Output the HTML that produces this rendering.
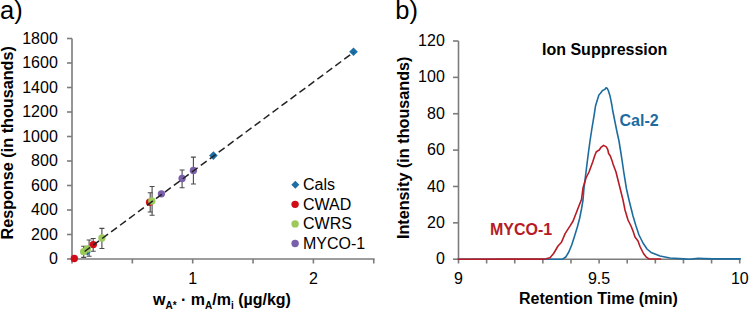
<!DOCTYPE html>
<html><head><meta charset="utf-8"><style>
html,body{margin:0;padding:0;background:#fff;width:749px;height:310px;overflow:hidden}
svg{display:block}
</style></head><body>
<svg width="749" height="310" viewBox="0 0 749 310" font-family='"Liberation Sans", sans-serif' fill="#000">
<path d="M72.0 38.5 V259.0" stroke="#7c7c7c" stroke-width="1.6" fill="none"/>
<path d="M71.0 259.0 H374.6" stroke="#7c7c7c" stroke-width="1.6" fill="none"/>
<path d="M67 259.00 H72.0" stroke="#7c7c7c" stroke-width="1.6" fill="none"/>
<text x="57.8" y="264.00" text-anchor="end" font-size="16">0</text>
<path d="M67 234.50 H72.0" stroke="#7c7c7c" stroke-width="1.6" fill="none"/>
<text x="57.8" y="239.50" text-anchor="end" font-size="16">200</text>
<path d="M67 210.00 H72.0" stroke="#7c7c7c" stroke-width="1.6" fill="none"/>
<text x="57.8" y="215.00" text-anchor="end" font-size="16">400</text>
<path d="M67 185.50 H72.0" stroke="#7c7c7c" stroke-width="1.6" fill="none"/>
<text x="57.8" y="190.50" text-anchor="end" font-size="16">600</text>
<path d="M67 161.00 H72.0" stroke="#7c7c7c" stroke-width="1.6" fill="none"/>
<text x="57.8" y="166.00" text-anchor="end" font-size="16">800</text>
<path d="M67 136.50 H72.0" stroke="#7c7c7c" stroke-width="1.6" fill="none"/>
<text x="57.8" y="141.50" text-anchor="end" font-size="16">1000</text>
<path d="M67 112.00 H72.0" stroke="#7c7c7c" stroke-width="1.6" fill="none"/>
<text x="57.8" y="117.00" text-anchor="end" font-size="16">1200</text>
<path d="M67 87.50 H72.0" stroke="#7c7c7c" stroke-width="1.6" fill="none"/>
<text x="57.8" y="92.50" text-anchor="end" font-size="16">1400</text>
<path d="M67 63.00 H72.0" stroke="#7c7c7c" stroke-width="1.6" fill="none"/>
<text x="57.8" y="68.00" text-anchor="end" font-size="16">1600</text>
<path d="M67 38.50 H72.0" stroke="#7c7c7c" stroke-width="1.6" fill="none"/>
<text x="57.8" y="43.50" text-anchor="end" font-size="16">1800</text>
<path d="M72.00 259.0 V263.5" stroke="#7c7c7c" stroke-width="1.6" fill="none"/>
<path d="M132.35 259.0 V263.5" stroke="#7c7c7c" stroke-width="1.6" fill="none"/>
<path d="M192.70 259.0 V263.5" stroke="#7c7c7c" stroke-width="1.6" fill="none"/>
<path d="M253.05 259.0 V263.5" stroke="#7c7c7c" stroke-width="1.6" fill="none"/>
<path d="M313.40 259.0 V263.5" stroke="#7c7c7c" stroke-width="1.6" fill="none"/>
<path d="M373.75 259.0 V263.5" stroke="#7c7c7c" stroke-width="1.6" fill="none"/>
<text x="192.7" y="284" text-anchor="middle" font-size="16">1</text>
<text x="313.5" y="284" text-anchor="middle" font-size="16">2</text>
<path d="M93.2 238.5 V251.2 M90.7 238.5 H95.7 M90.7 251.2 H95.7" stroke="#4a4a4a" stroke-width="1.1" fill="none"/>
<path d="M150.2 192.8 V212.0 M147.7 192.8 H152.7 M147.7 212.0 H152.7" stroke="#4a4a4a" stroke-width="1.1" fill="none"/>
<path d="M83.7 246.3 V257.4 M81.2 246.3 H86.2 M81.2 257.4 H86.2" stroke="#4a4a4a" stroke-width="1.1" fill="none"/>
<path d="M89.1 240.0 V256.3 M86.6 240.0 H91.6 M86.6 256.3 H91.6" stroke="#4a4a4a" stroke-width="1.1" fill="none"/>
<path d="M101.9 228.4 V248.5 M99.4 228.4 H104.4 M99.4 248.5 H104.4" stroke="#4a4a4a" stroke-width="1.1" fill="none"/>
<path d="M152.1 186.5 V215.3 M149.6 186.5 H154.6 M149.6 215.3 H154.6" stroke="#4a4a4a" stroke-width="1.1" fill="none"/>
<path d="M182.1 170.0 V187.7 M179.6 170.0 H184.6 M179.6 187.7 H184.6" stroke="#4a4a4a" stroke-width="1.1" fill="none"/>
<path d="M193.4 157.1 V184.0 M190.9 157.1 H195.9 M190.9 184.0 H195.9" stroke="#4a4a4a" stroke-width="1.1" fill="none"/>
<path d="M87.4 249.0 L90.7 252.3 L87.4 255.60000000000002 L84.10000000000001 252.3 Z" fill="#1c6ea5"/>
<path d="M213.4 151.29999999999998 L217.70000000000002 155.6 L213.4 159.9 L209.1 155.6 Z" fill="#1c6ea5"/>
<path d="M353.5 47.5 L357.8 51.8 L353.5 56.099999999999994 L349.2 51.8 Z" fill="#1c6ea5"/>
<circle cx="74.3" cy="258.5" r="3.7" fill="#cf0c17"/>
<circle cx="93.3" cy="244.6" r="3.7" fill="#cf0c17"/>
<circle cx="149.6" cy="202.3" r="3.7" fill="#cf0c17"/>
<circle cx="83.6" cy="251.7" r="3.65" fill="#9bc95a"/>
<circle cx="87.3" cy="248.9" r="3.65" fill="#9bc95a"/>
<circle cx="101.9" cy="238.0" r="3.65" fill="#9bc95a"/>
<circle cx="151.8" cy="201.0" r="3.65" fill="#9bc95a"/>
<circle cx="161.4" cy="193.8" r="3.65" fill="#7a60ab"/>
<circle cx="182.1" cy="178.5" r="3.65" fill="#7a60ab"/>
<circle cx="193.4" cy="170.5" r="3.65" fill="#7a60ab"/>
<path d="M84.6 251.5 L353.5 52.4" stroke="#222" stroke-width="1.5" stroke-dasharray="7.3 3.86" stroke-dashoffset="0.5" fill="none"/>
<path d="M295.3 180.8 L299.3 184.8 L295.3 188.8 L291.3 184.8 Z" fill="#1c6ea5"/>
<circle cx="295.1" cy="204.35" r="3.7" fill="#cf0c17"/>
<circle cx="295.1" cy="223.9" r="3.7" fill="#9bc95a"/>
<circle cx="295.1" cy="243.45" r="3.7" fill="#7a60ab"/>
<text x="303" y="190.20" font-size="16">Cals</text>
<text x="303" y="209.75" font-size="16">CWAD</text>
<text x="303" y="229.30" font-size="16">CWRS</text>
<text x="303" y="248.85" font-size="16">MYCO-1</text>
<text x="0" y="19.2" font-size="25.5">a)</text>
<text transform="translate(12.5,142.8) rotate(-90)" text-anchor="middle" font-size="16.2" font-weight="bold">Response (in thousands)</text>
<text x="153" y="305.1" font-size="16" font-weight="bold">w<tspan font-size="10" dy="4">A*</tspan><tspan dy="-4"> · m</tspan><tspan font-size="10" dy="4">A</tspan><tspan dy="-4">/m</tspan><tspan font-size="10" dy="4">i</tspan><tspan dy="-4"> (µg/kg)</tspan></text>
<path d="M458.5 41 V259.2" stroke="#7c7c7c" stroke-width="1.6" fill="none"/>
<path d="M457.5 259.2 H739.5" stroke="#7c7c7c" stroke-width="1.6" fill="none"/>
<path d="M453.0 259.20 H458.5" stroke="#7c7c7c" stroke-width="1.6" fill="none"/>
<text x="444.8" y="264.30" text-anchor="end" font-size="16">0</text>
<path d="M453.0 222.83 H458.5" stroke="#7c7c7c" stroke-width="1.6" fill="none"/>
<text x="444.8" y="227.93" text-anchor="end" font-size="16">20</text>
<path d="M453.0 186.47 H458.5" stroke="#7c7c7c" stroke-width="1.6" fill="none"/>
<text x="444.8" y="191.57" text-anchor="end" font-size="16">40</text>
<path d="M453.0 150.10 H458.5" stroke="#7c7c7c" stroke-width="1.6" fill="none"/>
<text x="444.8" y="155.20" text-anchor="end" font-size="16">60</text>
<path d="M453.0 113.73 H458.5" stroke="#7c7c7c" stroke-width="1.6" fill="none"/>
<text x="444.8" y="118.83" text-anchor="end" font-size="16">80</text>
<path d="M453.0 77.37 H458.5" stroke="#7c7c7c" stroke-width="1.6" fill="none"/>
<text x="444.8" y="82.47" text-anchor="end" font-size="16">100</text>
<path d="M453.0 41.00 H458.5" stroke="#7c7c7c" stroke-width="1.6" fill="none"/>
<text x="444.8" y="46.10" text-anchor="end" font-size="16">120</text>
<path d="M458.50 259.2 V263.5" stroke="#7c7c7c" stroke-width="1.6" fill="none"/>
<path d="M486.62 259.2 V263.5" stroke="#7c7c7c" stroke-width="1.6" fill="none"/>
<path d="M514.74 259.2 V263.5" stroke="#7c7c7c" stroke-width="1.6" fill="none"/>
<path d="M542.86 259.2 V263.5" stroke="#7c7c7c" stroke-width="1.6" fill="none"/>
<path d="M570.98 259.2 V263.5" stroke="#7c7c7c" stroke-width="1.6" fill="none"/>
<path d="M599.10 259.2 V263.5" stroke="#7c7c7c" stroke-width="1.6" fill="none"/>
<path d="M627.22 259.2 V263.5" stroke="#7c7c7c" stroke-width="1.6" fill="none"/>
<path d="M655.34 259.2 V263.5" stroke="#7c7c7c" stroke-width="1.6" fill="none"/>
<path d="M683.46 259.2 V263.5" stroke="#7c7c7c" stroke-width="1.6" fill="none"/>
<path d="M711.58 259.2 V263.5" stroke="#7c7c7c" stroke-width="1.6" fill="none"/>
<path d="M739.70 259.2 V263.5" stroke="#7c7c7c" stroke-width="1.6" fill="none"/>
<text x="458.5" y="284" text-anchor="middle" font-size="16">9</text>
<text x="599" y="284" text-anchor="middle" font-size="16">9.5</text>
<text x="739.8" y="284" text-anchor="middle" font-size="16">10</text>
<path d="M458.3 259.2 L562.5 259.2 L565.8 257 L568.8 252 L571.7 245 L574.6 236 L577.5 226.5 L579.6 218.5 L581.6 208.5 L583 200 L584 188 L586 172 L588 156 L590 141 L592 128 L594 116 L595.5 106 L597.4 99.8 L599 94.8 L600.5 93.2 L602.5 90.5 L603.6 90.1 L604.8 89.4 L606 87.8 L607.1 88.2 L608.3 90.5 L609.8 95.2 L611 100.6 L612 106 L612.6 110 L615 122 L617 132 L619 141 L620.6 151 L622.3 162 L623.9 173 L626.5 189 L629 200 L631 208 L633 216 L636 226 L639 235 L643 243 L647 249 L651 252.4 L655 254 L660 256 L670 258 L683.7 258.9 L689.5 259.2 L698.2 258.3 L704 258.6 L712.8 258.9 L740.4 258.9" stroke="#1d6c9f" stroke-width="1.6" fill="none" stroke-linejoin="round" stroke-linecap="round"/>
<path d="M458.3 259.2 L542 259.1 L546 258.8 L550 257.8 L553.6 253.5 L556 249.5 L558 246 L561.5 242.3 L565.1 233.6 L570.4 225.4 L573.1 221 L575.8 214 L579.3 205 L581.5 199.5 L583 188 L586 178 L589 172 L592.7 162 L594.7 155.8 L596.2 152 L597.8 150.8 L599.3 150 L600.9 147.3 L603.6 145.4 L606.3 146.9 L607.8 149.6 L608.6 153.5 L610.2 155.8 L612.5 162 L613 164 L616 172 L619 184 L622 196 L623 200 L625 210 L628 220 L631 226 L633 231 L635 237 L638 241 L640 246.5 L643.5 253.5 L646 256.8 L649 258.9 L660.5 259" stroke="#b61b26" stroke-width="1.6" fill="none" stroke-linejoin="round" stroke-linecap="round"/>
<text x="395.3" y="19.2" font-size="25.5">b)</text>
<text x="542" y="54.6" font-size="16" font-weight="bold">Ion Suppression</text>
<text x="619.5" y="125.5" font-size="16" font-weight="bold" fill="#1d6c9f">Cal-2</text>
<text x="490" y="234.5" font-size="16" font-weight="bold" fill="#b61b26">MYCO-1</text>
<text transform="translate(409,147.8) rotate(-90)" text-anchor="middle" font-size="16.2" font-weight="bold">Intensity (in thousands)</text>
<text x="519" y="304.2" font-size="16" font-weight="bold">Retention Time (min)</text>
</svg>
</body></html>
